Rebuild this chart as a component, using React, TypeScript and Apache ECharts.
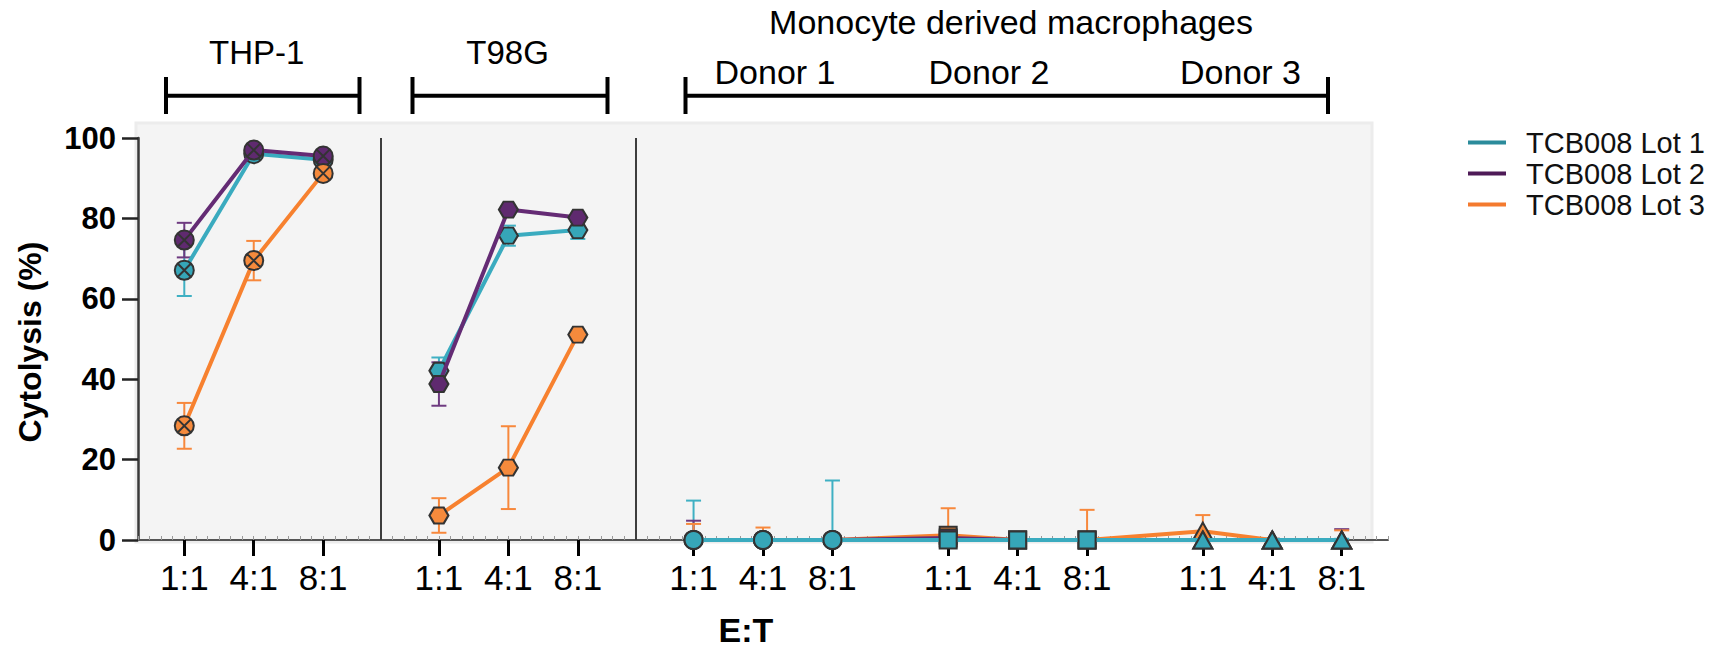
import React, { useEffect, useRef } from 'react';
import * as echarts from 'echarts';

// ---------- data ----------
const groups = ['THP-1', 'T98G', 'Donor 1', 'Donor 2', 'Donor 3'];
const ratios = ['1:1', '4:1', '8:1'];
const lotNames = ['TCB008 Lot 1', 'TCB008 Lot 2', 'TCB008 Lot 3'];
const yTicks = [0, 20, 40, 60, 80, 100];

// means, in group order (THP-1, T98G, Donor 1, Donor 2, Donor 3) x (1:1, 4:1, 8:1)
const lot1Mean = [67.1, 96.1, 94.6, 42.1, 75.7, 77.1, 0, 0, 0, 0, 0, 0, 0, 0, 0];
const lot1Sd = [6.4, 0.8, 0.8, 3.3, 2.5, 2.2, 9.8, 0.5, 14.8, 0.3, 0.3, 0.3, 1.4, 0.3, 0.3];
const lot2Mean = [74.6, 97.0, 95.5, 38.8, 82.2, 80.2, 0, 0, 0, 0.5, 0, 0, 0, 0, 0];
const lot2Sd = [4.3, 0.8, 0.8, 5.4, 0.8, 0.8, 4.8, 0.3, 0.3, 2.2, 0.3, 0.3, 0.3, 0.3, 2.7];
const lot3Mean = [28.4, 69.5, 91.2, 6.1, 18.0, 51.1, 0, 0, 0, 1.2, 0, 0, 2.2, 0, 0];
const lot3Sd = [5.7, 4.9, 1.0, 4.3, 10.3, 1.0, 4.0, 3.1, 0.3, 6.7, 0.3, 7.5, 4.0, 0.3, 2.4];

// ---------- styles ----------
const FONT = '"Liberation Sans", Arial, Helvetica, sans-serif';
const lineColors = ['#3aabbf', '#642b74', '#f7812f'];
const fillColors = ['#36a6b8', '#5f2a6f', '#f58a3c'];
const errColors = ['#3fb0c3', '#6e3a80', '#f7883c'];
const legendColors = ['#2b8b9b', '#4e1b57', '#f47a2e'];
const groupSymbols = [
  'path://M0,10A10,10,0,1,1,20,10A10,10,0,1,1,0,10ZM2.93,2.93L17.07,17.07M17.07,2.93L2.93,17.07',
  'path://M0,5L3,0L9,0L12,5L9,10L3,10Z',
  'circle',
  'rect',
  'triangle',
];
const groupSymbolSizes: any[] = [19, [19, 16], 18, 17, [19, 17]];
const segments = [[0], [1], [2, 3, 4]];

const GROUP_STEP = 11 / 3;
const FIRST = 2 / 3;
const xPos = (g: number, i: number) => FIRST + g * GROUP_STEP + i;

const means = [lot1Mean, lot2Mean, lot3Mean];
const sds = [lot1Sd, lot2Sd, lot3Sd];

export default function App() {
  const ref = useRef<HTMLDivElement>(null);
  useEffect(() => {
    document.body.style.margin = '0';
    if (!ref.current) return;
    const chart = echarts.init(ref.current, null, { renderer: 'svg' });

    const tickVals: number[] = [];
    groups.forEach((_, g) => ratios.forEach((__, i) => tickVals.push(xPos(g, i))));
    const labelFor = (v: number) => {
      const k = tickVals.findIndex((t) => Math.abs(t - v) < 1e-6);
      return k >= 0 ? ratios[k % 3] : '';
    };

    const series: any[] = [];
    // error bars
    means.forEach((m, L) => {
      series.push({
        type: 'custom',
        silent: true,
        z: 1,
        clip: false,
        encode: { x: 0, y: 1 },
        data: m.map((v, k) => [tickVals[k], v, sds[L][k]]),
        renderItem: (params: any, api: any) => {
          const x = api.value(0);
          const mv = api.value(1);
          const sd = api.value(2);
          const hi = mv + sd;
          const loRaw = mv - sd;
          const lo = Math.max(0, loRaw);
          const pHi = api.coord([x, hi]);
          const pLo = api.coord([x, lo]);
          const half = 7.5;
          const st = { stroke: errColors[L], lineWidth: 2 };
          const children: any[] = [
            { type: 'line', shape: { x1: pHi[0], y1: pHi[1], x2: pLo[0], y2: pLo[1] }, style: st },
            { type: 'line', shape: { x1: pHi[0] - half, y1: pHi[1], x2: pHi[0] + half, y2: pHi[1] }, style: st },
          ];
          if (loRaw > 0) {
            children.push({ type: 'line', shape: { x1: pLo[0] - half, y1: pLo[1], x2: pLo[0] + half, y2: pLo[1] }, style: st });
          }
          return { type: 'group', children };
        },
      });
    });

    // lines with markers
    means.forEach((m, L) => {
      segments.forEach((seg, s) => {
        const data: any[] = [];
        seg.forEach((g) => {
          ratios.forEach((_, i) => {
            const k = g * 3 + i;
            data.push({ value: [tickVals[k], m[k]], symbol: groupSymbols[g], symbolSize: groupSymbolSizes[g] });
          });
        });
        const z = s < 2 ? 3 + L : 5 - L;
        series.push({
          type: 'line',
          name: lotNames[L],
          data,
          z,
          clip: false,
          silent: true,
          showSymbol: true,
          lineStyle: { color: lineColors[L], width: 4 },
          itemStyle: { color: fillColors[L], borderColor: '#333333', borderWidth: 2 },
          emphasis: { disabled: true },
          markLine:
            L === 0 && s === 0
              ? {
                  silent: true,
                  symbol: ['none', 'none'],
                  label: { show: false },
                  lineStyle: { color: '#3d3d3d', width: 2, type: 'solid' },
                  data: [
                    { xAxis: (xPos(0, 2) + xPos(1, 0)) / 2 },
                    { xAxis: (xPos(1, 2) + xPos(2, 0)) / 2 },
                  ],
                }
              : undefined,
        });
      });
    });

    const txt = (text: string, x: number, y: number, size: number, bold = false, rotation = 0) => ({
      type: 'text',
      x,
      y,
      rotation,
      style: {
        text,
        fill: '#000',
        font: `${bold ? 'bold ' : ''}${size}px ${FONT}`,
        align: 'center',
        verticalAlign: 'middle',
      },
      silent: true,
    });
    const bracket = (x1: number, x2: number) => [
      { type: 'line', shape: { x1, y1: 95.7, x2, y2: 95.7 }, style: { stroke: '#000', lineWidth: 4 } },
      { type: 'line', shape: { x1, y1: 77, x2: x1, y2: 114 }, style: { stroke: '#000', lineWidth: 4 } },
      { type: 'line', shape: { x1: x2, y1: 77, x2, y2: 114 }, style: { stroke: '#000', lineWidth: 4 } },
    ];

    chart.setOption({
      animation: false,
      backgroundColor: '#ffffff',
      grid: { left: 138, top: 138, width: 1250, height: 402, containLabel: false },
      xAxis: [
        {
          type: 'value',
          min: 0,
          max: 18,
          interval: 1 / 3,
          splitLine: { show: false },
          axisLine: { show: true, onZero: false, lineStyle: { color: '#555555', width: 2 } },
          axisTick: { show: true, customValues: tickVals, length: 16, lineStyle: { color: '#000', width: 3 } },
          axisLabel: {
            show: true,
            customValues: tickVals,
            formatter: (v: number) => labelFor(v),
            fontSize: 35,
            color: '#000',
            fontFamily: FONT,
            margin: 20,
          },
        },
        {
          type: 'value',
          min: 0,
          max: 18,
          interval: 1 / 6,
          position: 'bottom',
          splitLine: { show: false },
          axisLine: { show: false },
          axisLabel: { show: false },
          axisTick: { show: true, inside: true, length: 4, lineStyle: { color: '#9a9a9a', width: 1 } },
        },
      ],
      yAxis: {
        type: 'value',
        min: 0,
        max: 100,
        interval: 20,
        splitLine: { show: false },
        axisLine: { show: true, lineStyle: { color: '#3a3a3a', width: 2.5 } },
        axisTick: { show: true, length: 16, lineStyle: { color: '#222', width: 2.5 } },
        axisLabel: {
          fontSize: 31,
          fontWeight: 'bold',
          color: '#000',
          fontFamily: FONT,
          margin: 22,
          formatter: (v: number) => (yTicks.includes(v) ? String(v) : ''),
        },
      },
      legend: {
        orient: 'vertical',
        left: 1463,
        top: 123,
        itemWidth: 38,
        itemHeight: 4,
        itemGap: 2,
        icon: 'rect',
        selectedMode: false,
        textStyle: { fontSize: 29, lineHeight: 29, color: '#111', fontFamily: FONT, padding: [0, 0, 0, 15] },
        data: lotNames.map((n, i) => ({ name: n, itemStyle: { color: legendColors[i], borderWidth: 0 } })),
      },
      graphic: [
        {
          type: 'rect',
          z: -10,
          silent: true,
          shape: { x: 136, y: 123, width: 1236, height: 419 },
          style: { fill: '#f4f4f4', stroke: '#ececec', lineWidth: 3 },
        },
        ...bracket(166, 359.5),
        ...bracket(412.5, 607.5),
        ...bracket(685.5, 1328),
        txt(groups[0], 256.7, 52, 33),
        txt(groups[1], 507.6, 52, 33),
        txt('Monocyte derived macrophages', 1011, 22, 34),
        txt(groups[2], 775, 72, 34),
        txt(groups[3], 989, 72, 34),
        txt(groups[4], 1240.5, 72, 34),
        txt('Cytolysis (%)', 30, 342, 32, true, Math.PI / 2),
        txt('E:T', 746, 630, 34, true),
      ],
      series,
    });
    return () => chart.dispose();
  }, []);
  return <div ref={ref} style={{ width: 1724, height: 648 }} />;
}
